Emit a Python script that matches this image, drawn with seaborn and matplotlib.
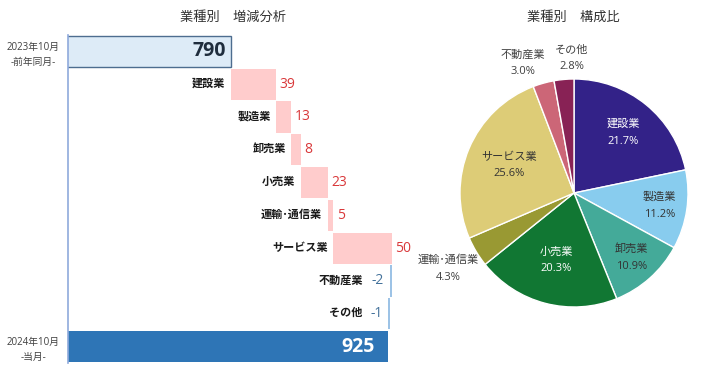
import matplotlib
matplotlib.use('Agg')
import matplotlib.pyplot as plt
import numpy as np
import pandas as pd
import seaborn as sns

# waterfall: previous / current totals and change by industry
prev_label = '2023年10月\n-前年同月-'
curr_label = '2024年10月\n-当月-'
prev_total = 790
curr_total = 925
industries = ['建設業', '製造業', '卸売業', '小売業', '運輸･通信業', 'サービス業', '不動産業', 'その他']
changes = [39, 13, 8, 23, 5, 50, -2, -1]

# composition (%) for the pie
shares = [21.7, 11.2, 10.9, 20.3, 4.3, 25.6, 3.0, 2.8]
pie_colors = ['#332288', '#88CCEE', '#44AA99', '#117733', '#999933', '#DDCC77', '#CC6677', '#882255']

sns.set_style('white')
plt.rcParams['font.family'] = ['Open Sans', 'Noto Sans CJK JP', 'DejaVu Sans']

# build the floating bar table
run = prev_total + np.concatenate([[0], np.cumsum(changes[:-1])])
rows = [prev_label] + industries + [curr_label]
df = pd.DataFrame({
    'row': rows,
    'value': [prev_total] + changes + [curr_total],
    'start': np.concatenate([[0], run, [0]]),
})

fig = plt.figure(figsize=(7.1, 3.73), dpi=100)
ax = fig.add_axes([68 / 710, 10 / 373, 352 / 710, 328 / 373])
sns.barplot(data=df, x='value', y='row', left=df['start'].values, width=0.95,
            errorbar=None, ax=ax, linewidth=0, color='#FFCCCC', saturation=1)

for i, p in enumerate(ax.patches):
    if i == 0:
        p.set_facecolor('#DDEBF7')
        p.set_edgecolor('#4D6D8F')
        p.set_linewidth(1.0)
    elif i == len(rows) - 1:
        p.set_facecolor('#2E75B6')
    elif df['value'][i] > 0:
        p.set_facecolor('#FFCCCC')
    else:
        p.set_facecolor('#9DC3E6')

ax.set_xlim(651, 952)
ax.set_ylim(9.5, -0.5)
ax.set(xlabel='', ylabel='')
ax.set_xticks([])
ax.set_yticks(range(len(rows)))
ax.set_yticklabels([prev_label] + [''] * len(industries) + [curr_label],
                   fontsize=7, color='#404040', linespacing=1.5)
plt.setp(ax.get_yticklabels(), multialignment='center')
ax.tick_params(axis='y', length=0, pad=6)
for s in ['top', 'right', 'bottom']:
    ax.spines[s].set_visible(False)
ax.spines['left'].set_color('#8FAADC')
ax.spines['left'].set_linewidth(1.2)

for i, (name, ch) in enumerate(zip(industries, changes)):
    r = i + 1
    start = run[i]
    end = start + ch
    if ch > 0:
        ax.annotate(name, (start, r), xytext=(-4, 0), textcoords='offset points',
                    ha='right', va='center', fontsize=8, weight='bold', color='#1a1a1a')
        ax.annotate(f'{ch}', (end, r), xytext=(2.5, 0), textcoords='offset points',
                    ha='left', va='center', fontsize=10, color='#D9383A')
    else:
        ax.annotate(f'{ch}', (end, r), xytext=(-4, 0), textcoords='offset points',
                    ha='right', va='center', fontsize=10, color='#44729B')
        ax.annotate(name, (end, r), xytext=(-19, 0), textcoords='offset points',
                    ha='right', va='center', fontsize=8, weight='bold', color='#1a1a1a')

ax.annotate(f'{prev_total}', (prev_total, 0), xytext=(-3, 0), textcoords='offset points',
            ha='right', va='center', fontsize=14, weight='bold', color='#1F2D3D')
ax.annotate(f'{curr_total}', (curr_total, len(rows) - 1), xytext=(-10, 0), textcoords='offset points',
            ha='right', va='center', fontsize=14, weight='bold', color='white')

# pie
pax = fig.add_axes([460 / 710, 66 / 373, 228 / 710, 228 / 373])
wedges, _ = pax.pie(shares, colors=pie_colors, startangle=90, counterclock=False,
                    wedgeprops=dict(edgecolor='white', linewidth=1.0))
pax.set_xlim(-1, 1)
pax.set_ylim(-1, 1)

label_dist = [0.68, 0.76, 0.76, 0.61, 1.29, 0.62, 1.22, 1.18]
label_shift = [0, 0, 0, 0, 0, 0, 6, -4]
label_colors = ['white', '#333333', '#333333', 'white', '#404040', '#333333', '#404040', '#404040']
for w, name, pct, d, sh, c in zip(wedges, industries, shares, label_dist, label_shift, label_colors):
    ang = np.deg2rad((w.theta1 + w.theta2) / 2 + sh)
    pax.text(d * np.cos(ang), d * np.sin(ang), f'{name}\n{pct:.1f}%', ha='center', va='center',
             fontsize=8, linespacing=1.7, color=c)

fig.text(233 / 710, 1 - 17 / 373, '業種別　増減分析', ha='center', va='center', fontsize=9.5, color='#333333')
fig.text(573 / 710, 1 - 17 / 373, '業種別　構成比', ha='center', va='center', fontsize=9.5, color='#333333')

fig.savefig('out.png', dpi=100)
